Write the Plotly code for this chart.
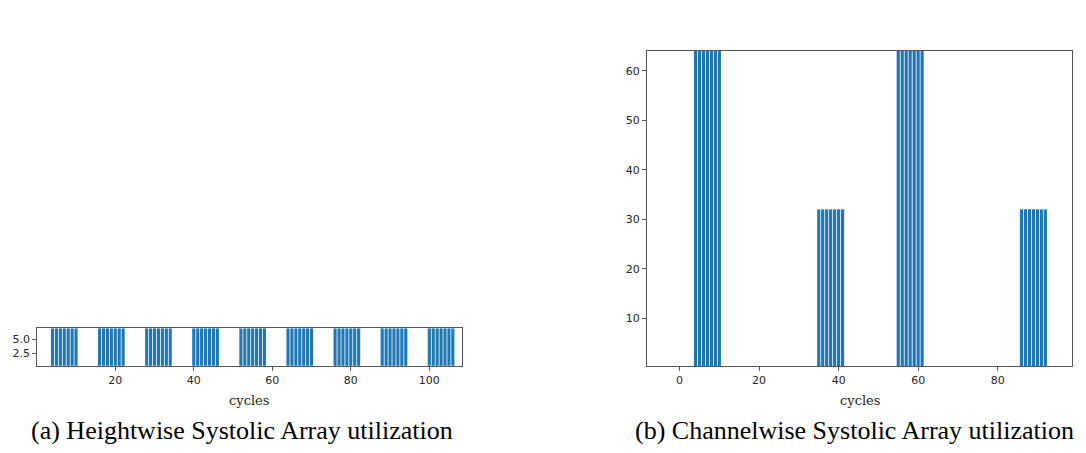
import plotly.graph_objects as go

# Heightwise (a): cycles with active rows, utilization value
a_cycles = [4, 5, 6, 7, 8, 9, 10,
            16, 17, 18, 19, 20, 21, 22,
            28, 29, 30, 31, 32, 33, 34,
            40, 41, 42, 43, 44, 45, 46,
            52, 53, 54, 55, 56, 57, 58,
            64, 65, 66, 67, 68, 69, 70,
            76, 77, 78, 79, 80, 81, 82,
            88, 89, 90, 91, 92, 93, 94,
            100, 101, 102, 103, 104, 105, 106]
a_util = [7] * len(a_cycles)

# Channelwise (b)
b_cycles = [4, 5, 6, 7, 8, 9, 10,
            35, 36, 37, 38, 39, 40, 41,
            55, 56, 57, 58, 59, 60, 61,
            86, 87, 88, 89, 90, 91, 92]
b_util = [64] * 7 + [32] * 7 + [64] * 7 + [32] * 7

a_xticks = [20, 40, 60, 80, 100]
a_yticks = [2.5, 5.0]
b_xticks = [0, 20, 40, 60, 80]
b_yticks = [10, 20, 30, 40, 50, 60]

BLUE = "#1f77b4"
OFF = 8  # page body margin
W, H = 1086 - 2 * OFF, 453 - 2 * OFF


def px(x):
    return (x - OFF) / W


def py(y):
    return (H - (y - OFF)) / H


fig = go.Figure()
fig.add_trace(go.Bar(x=a_cycles, y=a_util, width=0.8, marker=dict(color=BLUE, line=dict(width=0)),
                     xaxis="x", yaxis="y", showlegend=False))
fig.add_trace(go.Bar(x=b_cycles, y=b_util, width=0.8, marker=dict(color=BLUE, line=dict(width=0)),
                     xaxis="x2", yaxis="y2", showlegend=False))

tickfont = dict(family="DejaVu Sans", size=11, color="#262626")
axis_common = dict(showline=True, mirror=True, linecolor="#555555", linewidth=1,
                   showgrid=False, zeroline=False, ticks="outside", ticklen=4,
                   tickwidth=1, tickcolor="#555555", tickfont=tickfont)

label_font = dict(family="DejaVu Serif", size=13, color="#262626")
cap_font = dict(family="Liberation Serif", size=26, color="#000000")

fig.update_layout(
    width=W, height=H,
    margin=dict(l=0, r=0, t=0, b=0),
    paper_bgcolor="white", plot_bgcolor="white",
    xaxis=dict(domain=[px(37.3), px(461.7)], range=[0.13, 108.25], tickvals=a_xticks,
               anchor="y", **axis_common),
    yaxis=dict(domain=[py(365.7), py(328.3)], range=[0.22, 7.0], tickvals=a_yticks,
               tickformat=".1f", anchor="x", **axis_common),
    xaxis2=dict(domain=[px(647), px(1072)], range=[-8.2, 98.7], tickvals=b_xticks,
                anchor="y2", **axis_common),
    yaxis2=dict(domain=[py(366), py(51)], range=[0.35, 64], tickvals=b_yticks,
                anchor="x2", **axis_common),
    annotations=[
        dict(text="cycles", x=px((37.3 + 461.7) / 2), y=py(400), xref="paper", yref="paper",
             xanchor="center", yanchor="middle", showarrow=False, font=label_font),
        dict(text="cycles", x=px((647 + 1072) / 2), y=py(400), xref="paper", yref="paper",
             xanchor="center", yanchor="middle", showarrow=False, font=label_font),
        dict(text="(a) Heightwise Systolic Array utilization", x=px(242), y=py(430),
             xref="paper", yref="paper", xanchor="center", yanchor="middle",
             showarrow=False, font=cap_font),
        dict(text="(b) Channelwise Systolic Array utilization", x=px(854.5), y=py(430),
             xref="paper", yref="paper", xanchor="center", yanchor="middle",
             showarrow=False, font=cap_font),
    ],
)

fig.write_html("out.html")
